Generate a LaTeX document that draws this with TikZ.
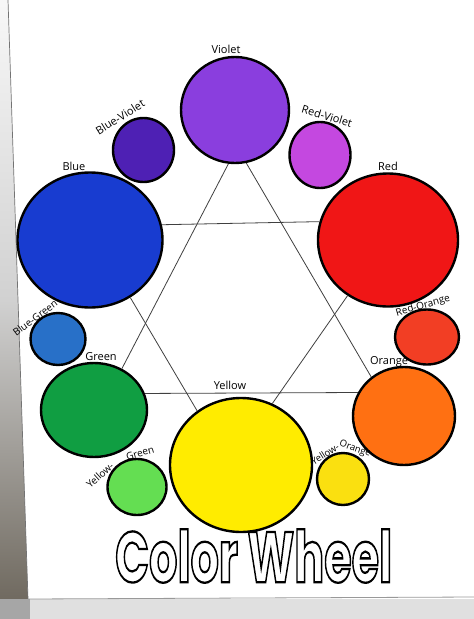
\documentclass[tikz,border=0pt]{standalone}
\usepackage{fontspec}
\usepackage{graphicx}
\usetikzlibrary{shapes.geometric}
\newfontfamily\hand{Open Sans}
\newfontfamily\titlefont{Poppins}
\newcommand{\hollowtext}[1]{\special{pdf:literal direct 1 Tr 1.6 w}#1\special{pdf:literal direct 0 Tr}}
\definecolor{cViolet}{RGB}{138,62,222}
\definecolor{cBlueViolet}{RGB}{78,32,180}
\definecolor{cRedViolet}{RGB}{196,72,224}
\definecolor{cBlue}{RGB}{24,60,208}
\definecolor{cRed}{RGB}{240,22,22}
\definecolor{cBlueGreen}{RGB}{40,112,200}
\definecolor{cRedOrange}{RGB}{242,62,36}
\definecolor{cGreen}{RGB}{16,158,66}
\definecolor{cOrange}{RGB}{255,112,18}
\definecolor{cYellow}{RGB}{255,236,0}
\definecolor{cYellowGreen}{RGB}{100,222,82}
\definecolor{cYellowOrange}{RGB}{250,224,16}
\definecolor{cStrip}{RGB}{112,106,96}
\tikzset{
  blob/.style={ellipse, draw=black, line width=2.4pt, inner sep=0pt},
  tri/.style={draw=black!75, line width=0.8pt},
  lbl/.style={font=\hand\fontsize{11}{11}\selectfont, inner sep=0pt},
  slbl/.style={font=\hand\fontsize{10}{10}\selectfont, inner sep=0pt},
  tlbl/.style={font=\hand\fontsize{9.5}{9.5}\selectfont, inner sep=0pt},
}
\begin{document}
\begin{tikzpicture}[x=1pt,y=-1pt]
\useasboundingbox (0,0) rectangle (474,619);
\fill[white] (0,0) rectangle (474,619);
% paper edge / background
\shade[top color=black!3, bottom color=cStrip, middle color=black!18] (0,0) -- (8,0) -- (28,599) -- (0,599) -- cycle;
\draw[black!55, line width=0.7pt] (8,0) -- (28,599);
\fill[black!12] (0,599) rectangle (474,619);
\fill[black!35] (0,599) rectangle (30,619);
\draw[black!40, line width=0.8pt] (28,599) -- (474,597);
% circles
\node[blob, fill=cViolet, minimum width=108pt, minimum height=106pt] (violet) at (235,110) {};
\node[blob, fill=cBlueViolet, minimum width=61pt, minimum height=64pt] (bv) at (143.5,150) {};
\node[blob, fill=cRedViolet, minimum width=61pt, minimum height=66pt] (rv) at (320,155) {};
\node[blob, fill=cBlue, minimum width=145pt, minimum height=135pt] (blue) at (90,240) {};
\node[blob, fill=cRed, minimum width=140pt, minimum height=133pt] (red) at (388,240) {};
\node[blob, fill=cBlueGreen, minimum width=55pt, minimum height=52pt] (bg) at (58,339) {};
\node[blob, fill=cRedOrange, minimum width=64pt, minimum height=55pt] (ro) at (427,337) {};
\node[blob, fill=cGreen, minimum width=106pt, minimum height=94pt] (green) at (94,410) {};
\node[blob, fill=cOrange, minimum width=102pt, minimum height=98pt] (orange) at (404,416) {};
\node[blob, fill=cYellow, minimum width=142pt, minimum height=134pt] (yellow) at (241,465) {};
\node[blob, fill=cYellowGreen, minimum width=59pt, minimum height=56pt] (yg) at (137,487) {};
\node[blob, fill=cYellowOrange, minimum width=52pt, minimum height=52pt] (yo) at (343,479) {};
% triangles
\draw[tri] (violet.-97) -- (green.56);
\draw[tri] (violet.-78) -- (orange.130);
\draw[tri] (green.18) -- (orange.153);
\draw[tri] (blue.12) -- (red.165);
\draw[tri] (blue.-55) -- (yellow.129);
\draw[tri] (red.-126) -- (yellow.63);
% labels
\node[lbl] (lviolet) at (226,49) {Violet};
\node[lbl, rotate=32] (lbv) at (120,117) {Blue-Violet};
\node[lbl, rotate=-17] (lrv) at (327,116) {Red-Violet};
\node[lbl] (lblue) at (74,166) {Blue};
\node[lbl] (lred) at (388,166) {Red};
\node[slbl, rotate=37] (lbg) at (35,318) {Blue-Green};
\node[lbl] (lgreen) at (101,357) {Green};
\node[slbl, rotate=16] (lro) at (423,306) {Red-Orange};
\node[lbl] (lorange) at (389,362) {Orange};
\node[lbl] (lyellow) at (230,385) {Yellow};
\node[slbl, rotate=42] (lyg1) at (100,475) {Yellow-};
\node[slbl, rotate=16] (lyg2) at (140,453) {Green};
\node[tlbl, rotate=32] (lyo1) at (325,454) {Yellow-};
\node[tlbl, rotate=-20] (lyo2) at (355,449) {Orange};
% title
\node[anchor=south west, inner sep=0pt] (title) at (115,583)
  {\resizebox{277pt}{53pt}{\titlefont\fontsize{50}{50}\selectfont\bfseries\hollowtext{Color Wheel}}};
\end{tikzpicture}
\end{document}
